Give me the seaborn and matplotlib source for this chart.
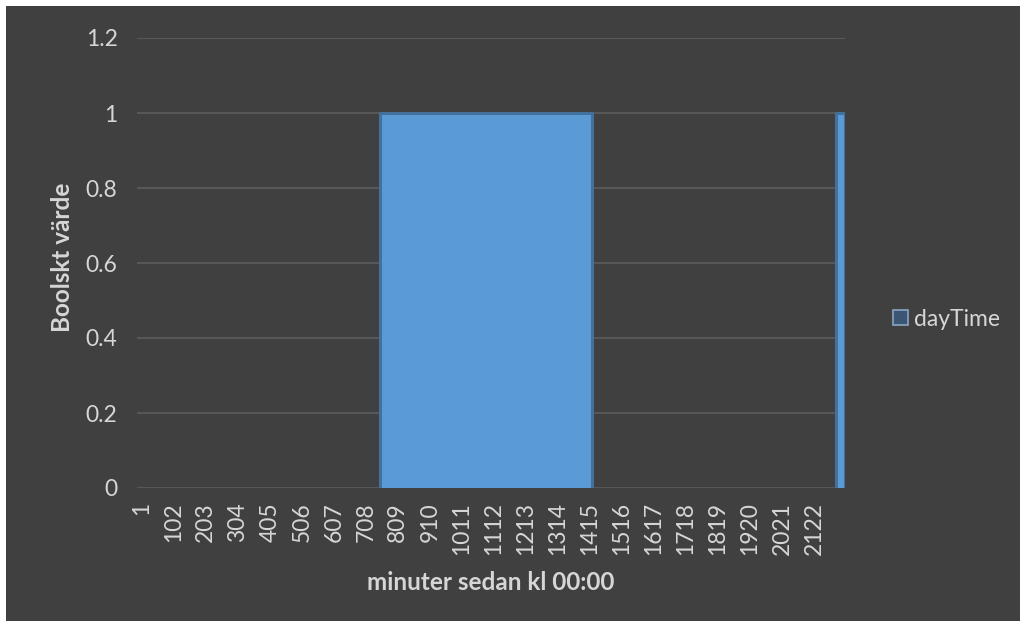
import matplotlib
matplotlib.use("Agg")
import matplotlib.pyplot as plt
from matplotlib.patches import Rectangle, Patch
import numpy as np
import pandas as pd
import seaborn as sns

# Minutes recorded in the log and the spans where dayTime is true
total_minutes = 2220
day_starts = [752, 2193]
day_ends = [1421, 2220]
series_name = "dayTime"

tick_positions = [1, 102, 203, 304, 405, 506, 607, 708, 809, 910, 1011, 1112,
                  1213, 1314, 1415, 1516, 1617, 1718, 1819, 1920, 2021, 2122]
tick_labels = ["1", "102", "203", "304", "405", "506", "607", "708", "809", "910",
               "1011", "1112", "1213", "1314", "1415", "1516", "1617", "1718",
               "1819", "1920", "2021", "2122"]
y_ticks = [0, 0.2, 0.4, 0.6, 0.8, 1, 1.2]
y_tick_labels = ["0", "0.2", "0.4", "0.6", "0.8", "1", "1.2"]

bg = "#404040"
fill_col = "#5b9bd5"
edge_col = "#41719c"
text_col = "#d6d6d6"
grid_col = "#5f5f5f"

sns.set_theme(style="dark", rc={"axes.facecolor": bg})
plt.rcParams["font.family"] = ["Lato", "DejaVu Sans"]

# Full step signal for the filled area
xs, ys = [1], [0]
for s, e in zip(day_starts, day_ends):
    xs += [s, s, e, e]
    ys += [0, 1, 1, 0]
xs.append(total_minutes)
ys.append(0)
df = pd.DataFrame({"minute": xs, series_name: ys})

# Outline of each true span, one unit per span
outline_rows = []
for k, (s, e) in enumerate(zip(day_starts, day_ends)):
    for mx, my in [(s, 0), (s, 1), (e, 1), (e, 0)]:
        outline_rows.append({"span": k, "minute": mx, series_name: my})
outline = pd.DataFrame(outline_rows)

W, H = 1026, 628
fig = plt.figure(figsize=(W / 100, H / 100), dpi=100)
fig.patch.set_facecolor("white")
fig.add_artist(Rectangle((6 / W, 7 / H), 1014 / W, 615 / H,
                         transform=fig.transFigure, facecolor=bg,
                         edgecolor="none", zorder=-10))

ax = fig.add_axes([137 / W, (H - 488) / H, 708 / W, 450 / H])
ax.set_facecolor(bg)

ax.fill_between(df["minute"], df[series_name], 0, facecolor=fill_col,
                edgecolor="none", zorder=2)
sns.lineplot(data=outline, x="minute", y=series_name, units="span", ax=ax,
             estimator=None, sort=False, color=edge_col, linewidth=2.2,
             zorder=3)

ax.set_xlim(-14, total_minutes)
ax.set_ylim(0, 1.2)
ax.set_yticks(y_ticks)
ax.set_yticklabels(y_tick_labels)
ax.set_xticks(tick_positions)
ax.set_xticklabels(tick_labels, rotation=90)
ax.tick_params(axis="x", length=0, pad=10, labelsize=16.5, colors=text_col)
ax.tick_params(axis="y", length=0, pad=14, labelsize=16.5, colors=text_col)
ax.grid(axis="y", color=grid_col, linewidth=1.1, zorder=1)
ax.grid(axis="x", visible=False)
for sp in ax.spines.values():
    sp.set_visible(False)

ax.set_xlabel("minuter sedan kl 00:00", fontsize=17.5, fontweight="bold",
              color=text_col)
ax.xaxis.label.set_va("center")
ax.xaxis.set_label_coords((491 - 137) / 708, (488 - 583) / 450)
ax.set_ylabel("Boolskt värde", fontsize=17.5, fontweight="bold", color=text_col)
ax.yaxis.label.set_va("center")
ax.yaxis.set_label_coords((62 - 137) / 708, (488 - 257) / 450)

handle = Patch(facecolor="#3b5673", edgecolor="#8aa6c4", linewidth=1.2,
               label=series_name)
leg = ax.legend(handles=[handle], loc="center left",
                bbox_to_anchor=(893 / W, (H - 319) / H),
                bbox_transform=fig.transFigure, frameon=False,
                borderaxespad=0, borderpad=0, handlelength=0.65,
                handleheight=0.65, handletextpad=0.25, fontsize=16.5)
for t in leg.get_texts():
    t.set_color(text_col)

fig.savefig("out.png", dpi=100, facecolor=fig.get_facecolor())
